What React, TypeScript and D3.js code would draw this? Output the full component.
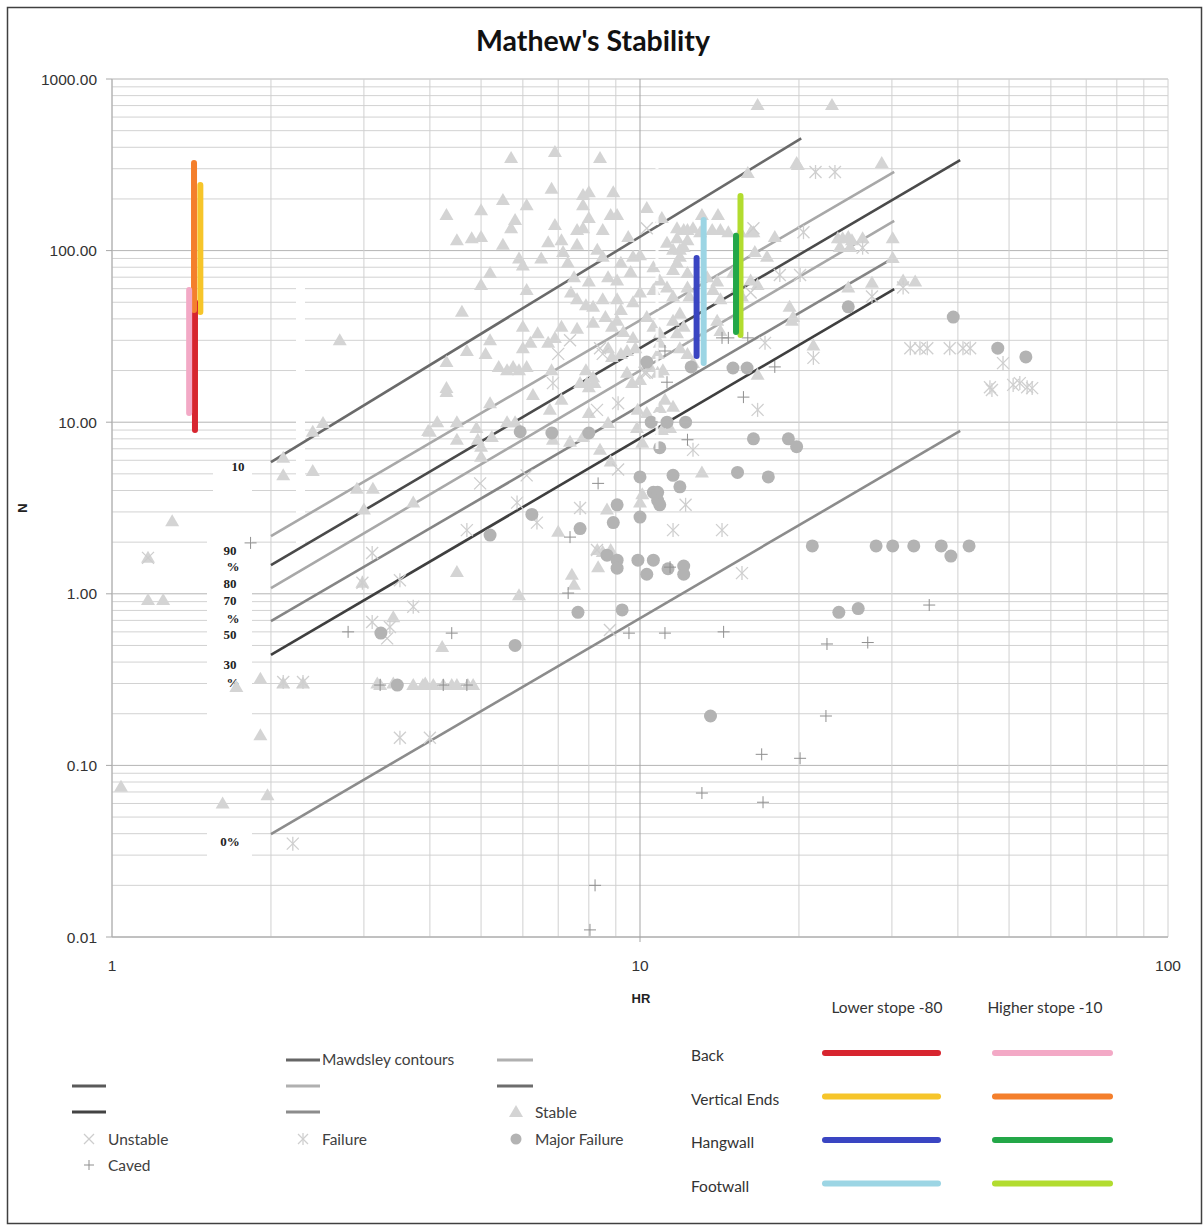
import React from "react";
import * as d3 from "d3";

// ---------- data ----------
const X_TICKS = [1, 10, 100];
const Y_TICKS = [0.01, 0.1, 1, 10, 100, 1000];

// [HR, N]
const STABLE: [number, number][] = [
  [16.7, 705], [23.1, 705], [6.9, 376], [5.7, 347], [8.4, 347], [6.8, 229], [5.5, 197], [6.1, 184],
  [7.8, 211], [8.0, 219], [8.9, 219], [7.8, 184], [4.3, 161], [5.0, 172], [5.8, 151], [5.7, 135],
  [6.9, 141], [8.0, 155], [8.8, 161], [9.05, 161], [10.3, 177], [7.6, 132], [7.8, 135], [8.5, 132],
  [4.5, 115], [4.8, 118], [5.0, 120], [5.5, 108], [6.7, 112], [7.1, 115], [7.6, 108], [9.5, 120],
  [11.0, 155], [11.75, 135], [12.1, 132], [12.6, 135], [5.9, 90], [6.0, 82], [6.5, 90], [7.15, 98],
  [7.3, 85], [8.3, 101], [8.5, 92], [9.2, 85], [9.7, 92], [10, 94], [5.2, 74], [5.0, 63], [6.1, 59],
  [7.5, 70], [8.0, 66], [8.7, 70], [9.05, 67], [9.6, 75], [7.4, 57], [7.6, 52], [7.9, 48], [8.15, 47],
  [8.5, 52], [9.05, 52], [9.2, 45], [9.7, 50], [10, 57], [4.6, 44], [6.0, 36], [6.4, 33], [6.7, 29],
  [6.9, 31], [7.1, 36], [7.6, 35], [8.15, 38], [8.6, 41], [8.85, 36], [9.05, 39], [9.3, 33.5], [9.7, 31],
  [5.2, 30], [5.1, 25], [6.0, 27], [6.2, 29], [4.7, 26], [4.3, 22.4], [5.4, 21], [5.6, 20.1], [5.75, 21],
  [5.9, 20.1], [6.1, 21], [6.8, 20.1], [7.9, 20.1], [8.15, 18.3], [8.7, 27], [8.85, 24], [9.2, 25],
  [9.45, 26], [9.8, 27], [4.3, 15.8], [7.7, 16.9], [8.0, 16.0], [9.45, 19.4], [10, 17.6], [10.45, 21],
  [10.8, 19.4], [11.05, 20.1], [10.6, 59], [10.9, 67], [11.25, 61], [11.55, 54], [10.6, 80], [11.55, 77],
  [11.9, 101], [12.3, 115], [10.3, 41], [10.6, 36], [10.9, 33], [11.55, 39], [11.9, 43],
  [13.1, 161], [14.05, 161], [18, 120], [17.4, 92], [19.8, 324], [12.3, 132], [13.0, 128], [13.7, 132],
  [14.2, 132], [14.7, 128], [15.5, 128], [16.2, 128], [11.75, 118], [11.25, 111], [11.55, 101], [12.1, 105],
  [11.9, 92], [11.75, 85], [12.3, 74], [12.3, 61], [12.4, 54], [13.4, 70], [14.0, 66], [13.75, 59],
  [14.2, 52], [15.0, 74], [15.3, 61], [15.6, 54], [16.2, 67], [16.7, 63], [14.0, 39], [14.2, 34],
  [12.1, 36], [11.75, 33], [19.2, 47], [19.5, 41], [16.7, 18.9], [10.9, 29], [10.8, 25], [11.9, 27],
  [12.3, 25], [12.6, 22.1], [16.0, 283], [19.9, 315], [28.7, 324], [16.4, 128], [16.5, 98], [23.7, 118],
  [24.2, 118], [24.8, 120], [25.2, 115], [26.4, 118], [23.9, 105], [25.0, 105], [30.1, 118], [30.1, 90.6],
  [31.5, 67], [33.2, 66], [24.8, 61], [27.5, 65], [19.4, 39], [21.3, 28],
  [4.3, 15.0], [4.13, 10], [4.5, 10], [4.0, 8.8], [4.5, 7.9], [5.2, 12.9], [6.27, 14.4], [7.1, 13.5],
  [6.75, 11.8], [5.8, 10], [5.6, 10], [4.9, 9.25], [4.93, 7.9], [5.0, 7.2], [5.0, 6.3], [5.24, 8.2],
  [6.84, 7.9], [7.37, 7.7], [7.8, 8.2], [8.4, 6.9], [8.8, 5.9], [8.0, 11.3], [8.7, 9.9], [7.94, 16.9],
  [8.2, 16.9], [9.66, 16.9], [9.9, 11.8], [10.3, 11.3], [10.9, 12.1], [11.15, 13.5], [11.55, 12.3],
  [9.87, 9.25], [10.1, 7.6], [11.0, 9.0], [11.4, 9.25], [3.72, 3.4], [4.5, 1.34], [5.9, 0.98], [7.0, 2.3],
  [8.66, 3.1], [10.1, 3.8], [10, 3.4], [8.3, 1.8], [8.5, 1.75], [8.8, 1.8], [8.33, 1.43], [7.43, 1.29],
  [7.5, 1.13], [3.41, 0.73], [4.22, 0.49], [3.22, 0.294], [3.72, 0.294], [3.88, 0.294], [4.06, 0.294],
  [4.24, 0.294], [4.4, 0.294], [4.5, 0.294], [4.72, 0.294], [4.83, 0.294], [13.1, 5.1],
  [2.7, 30], [2.51, 9.9], [2.4, 8.8], [2.11, 6.2], [2.11, 4.9], [2.4, 5.2], [2.91, 4.1], [3.12, 4.1],
  [3.0, 3.1], [3.97, 8.9], [1.3, 2.65], [1.17, 1.62], [1.17, 0.92], [1.25, 0.92], [2.98, 1.16],
  [1.72, 0.286], [1.91, 0.32], [2.11, 0.3], [2.3, 0.3], [1.91, 0.15], [1.04, 0.075], [1.62, 0.06],
  [1.97, 0.067], [3.18, 0.3], [3.41, 0.3], [3.92, 0.3],
];

const MAJOR_FAILURE: [number, number][] = [
  [10.3, 22.4], [12.5, 21], [15.0, 20.7], [15.95, 20.7], [5.93, 8.8], [6.81, 8.65], [8.0, 8.65],
  [10.5, 10], [11.25, 10], [12.2, 10], [10.9, 7.1], [16.4, 8.0], [19.1, 8.0], [19.8, 7.2], [15.3, 5.1],
  [17.5, 4.8], [10, 4.8], [11.55, 4.9], [11.9, 4.2], [10.6, 3.9], [10.8, 3.9], [10.8, 3.5], [10.9, 3.3],
  [9.05, 3.3], [8.9, 2.6], [10, 2.8], [6.24, 2.9], [7.7, 2.4], [5.2, 2.2], [8.66, 1.68], [9.05, 1.57],
  [9.05, 1.41], [9.91, 1.57], [10.6, 1.57], [10.3, 1.3], [11.3, 1.4], [12.1, 1.45], [12.1, 1.3],
  [7.63, 0.78], [9.25, 0.805], [5.8, 0.5], [3.23, 0.59], [3.47, 0.294], [13.6, 0.194], [23.8, 0.78],
  [25.9, 0.82], [21.2, 1.9], [28.0, 1.9], [30.1, 1.9], [33.0, 1.9], [37.2, 1.9], [38.8, 1.66], [42.0, 1.9],
  [24.8, 47], [39.2, 41], [47.6, 27], [53.8, 24],
];

const UNSTABLE: [number, number][] = [
  [1.17, 1.62], [7.37, 30], [8.5, 25], [10.3, 19.4], [9.09, 5.3], [8.29, 1.8], [4.98, 4.4],
  [8.77, 0.615], [8.29, 11.8], [3.32, 0.55], [10.3, 135], [16.4, 135], [16.2, 57], [8.4, 27],
  [10.2, 19.4], [7.0, 25], [6.1, 4.9],
];

const FAILURE: [number, number][] = [
  [12.6, 6.9], [9.09, 12.9], [16.7, 11.8], [7.7, 3.16], [12.2, 3.3], [6.38, 2.6], [4.7, 2.35],
  [11.55, 2.35], [14.3, 2.35], [15.6, 1.32], [3.72, 0.84], [5.85, 3.4], [6.84, 16.9], [3.51, 0.145],
  [4.0, 0.145], [3.51, 1.2], [3.11, 1.73], [2.98, 1.16], [3.11, 0.685], [3.36, 0.64], [2.11, 0.306],
  [2.3, 0.306], [2.2, 0.035], [21.5, 287], [23.4, 287], [20.4, 128], [18.4, 72], [20.1, 72], [26.4, 104],
  [31.5, 61], [27.5, 54], [17.25, 29], [21.3, 23.7], [32.5, 27], [33.9, 27], [35.0, 27], [38.6, 27],
  [40.9, 27], [42.2, 27], [48.7, 22.1], [46.0, 16.0], [46.4, 15.4], [50.9, 16.5], [52.4, 16.9],
  [54.1, 16.0], [55.3, 15.8],
];

const CAVED: [number, number][] = [
  [2.8, 0.6], [4.4, 0.59], [7.37, 2.14], [8.33, 4.4], [9.53, 0.59], [11.15, 0.59], [14.4, 0.6],
  [7.31, 1.01], [4.24, 0.294], [4.7, 0.294], [3.22, 0.294], [11.15, 26], [11.25, 17.1], [15.7, 14.0],
  [18.0, 21], [11.4, 1.43], [12.3, 7.9], [22.6, 0.51], [27.0, 0.52], [35.3, 0.86], [22.5, 0.194],
  [17.0, 0.116], [20.1, 0.11], [13.1, 0.069], [17.1, 0.061], [8.22, 0.02], [8.04, 0.011], [14.3, 31],
  [14.7, 31], [16.0, 31], [1.83, 1.98],
];

// Mawdsley contours: start at HR_START, N_START -> end at HR_END, N_END
const CONTOUR_HR_START = [2, 2, 2, 2, 2, 2, 2];
const CONTOUR_N_START = [5.86, 2.17, 1.47, 1.08, 0.694, 0.44, 0.0398];
const CONTOUR_HR_END = [20.2, 30.3, 40.4, 30.3, 29.6, 30.3, 40.4];
const CONTOUR_N_END = [451, 288, 337, 149, 87.3, 59.7, 8.89];
const CONTOUR_COLORS = ["#6a6a6a", "#a8a8a8", "#4a4a4a", "#a8a8a8", "#858585", "#3f3f3f", "#8c8c8c"];

// contour labels (text, N at which it sits)
const CONTOUR_LABELS = ["10", "90", "%", "80", "70", "%", "50", "30", "%", "0%"];
const CONTOUR_LABEL_N = [5.55, 1.79, 1.45, 1.15, 0.91, 0.72, 0.58, 0.385, 0.305, 0.036];

// stope ranges
const SURFACES = ["Back", "Vertical Ends", "Hangwall", "Footwall"];
const LOWER_HR = [1.436, 1.47, 12.8, 13.2];
const LOWER_N_MIN = [9.0, 43.8, 24.3, 22.1];
const LOWER_N_MAX = [50, 241, 90.5, 151];
const HIGHER_HR = [1.4, 1.43, 15.2, 15.5];
const HIGHER_N_MIN = [11.3, 45, 33.6, 32.2];
const HIGHER_N_MAX = [59, 324, 122, 208];
const LOWER_COLORS = ["#d7252f", "#f6c52a", "#3a45c2", "#9cd5e4"];
const HIGHER_COLORS = ["#f3a9c6", "#f47f2c", "#23a748", "#b2dc2f"];

// ---------- drawing ----------
const TRI = "#d4d4d4";
const CIRC = "#b3b3b3";

function Tri({ cx, cy }: { cx: number; cy: number }) {
  return <path d={`M${cx},${cy - 7}L${cx + 7},${cy + 5}L${cx - 7},${cy + 5}Z`} fill={TRI} />;
}
function Xm({ cx, cy, s = 6 }: { cx: number; cy: number; s?: number }) {
  return (
    <g stroke="#cdcdcd" strokeWidth={1.3}>
      <line x1={cx - s} y1={cy - s} x2={cx + s} y2={cy + s} />
      <line x1={cx - s} y1={cy + s} x2={cx + s} y2={cy - s} />
    </g>
  );
}
function Ast({ cx, cy, s = 6 }: { cx: number; cy: number; s?: number }) {
  return (
    <g stroke="#cfcfcf" strokeWidth={1.3}>
      <line x1={cx - s} y1={cy - s} x2={cx + s} y2={cy + s} />
      <line x1={cx - s} y1={cy + s} x2={cx + s} y2={cy - s} />
      <line x1={cx} y1={cy - s - 1} x2={cx} y2={cy + s + 1} />
    </g>
  );
}
function Plus({ cx, cy, s = 6 }: { cx: number; cy: number; s?: number }) {
  return (
    <g stroke="#8f8f8f" strokeWidth={1}>
      <line x1={cx - s} y1={cy} x2={cx + s} y2={cy} />
      <line x1={cx} y1={cy - s} x2={cx} y2={cy + s} />
    </g>
  );
}

export default function App() {
  const x = d3.scaleLog().domain([1, 100]).range([112, 1168]);
  const y = d3.scaleLog().domain([0.01, 1000]).range([937, 79]);

  const xGrid: number[] = [];
  [1, 10].forEach((d) => d3.range(1, 10).forEach((k) => xGrid.push(k * d)));
  xGrid.push(100);
  const yGrid: number[] = [];
  [0.01, 0.1, 1, 10, 100].forEach((d) => d3.range(1, 10).forEach((k) => yGrid.push(k * d)));
  yGrid.push(1000);

  const sans = "Lato, 'Open Sans', sans-serif";
  const arial = "'Liberation Sans', Arial, sans-serif";

  return (
    <div style={{ position: "absolute", left: 0, top: 0 }}>
      <svg width={1203} height={1225} style={{ display: "block", background: "#fff" }}>
        <rect x={7.5} y={7.5} width={1194} height={1216} fill="#fff" stroke="#404040" strokeWidth={1.5} />

        {/* title */}
        <text x={593} y={51} textAnchor="middle" fontFamily={sans} fontWeight={700} fontSize={28.5} fill="#111">
          Mathew's Stability
        </text>

        {/* grid */}
        {yGrid.map((v, i) => {
          const major = Y_TICKS.some((t) => Math.abs(t - v) / v < 1e-6);
          return (
            <line key={"yg" + i} x1={112} x2={1168} y1={y(v)} y2={y(v)}
              stroke={major ? "#b4b4b4" : "#d2d2d2"} strokeWidth={1} />
          );
        })}
        {xGrid.map((v, i) => {
          const major = v === 10;
          return (
            <line key={"xg" + i} x1={x(v)} x2={x(v)} y1={79} y2={major ? 942 : 937}
              stroke={major ? "#a5a5a5" : "#d0d0d0"} strokeWidth={1} />
          );
        })}
        <line x1={112} x2={112} y1={79} y2={937} stroke="#a8a8a8" />
        <line x1={112} x2={1168} y1={937} y2={937} stroke="#a8a8a8" />
        {Y_TICKS.map((t) => (
          <line key={"yt" + t} x1={106} x2={112} y1={y(t)} y2={y(t)} stroke="#a8a8a8" />
        ))}

        {/* tick labels */}
        {Y_TICKS.map((t) => (
          <text key={"yl" + t} x={97} y={y(t) + 5.5} textAnchor="end" fontFamily={arial} fontSize={15.5} fill="#333">
            {t.toFixed(2)}
          </text>
        ))}
        {X_TICKS.map((t) => (
          <text key={"xl" + t} x={x(t)} y={971} textAnchor="middle" fontFamily={arial} fontSize={15.5} fill="#333">
            {t}
          </text>
        ))}
        <text x={641} y={1003} textAnchor="middle" fontFamily={arial} fontWeight={700} fontSize={13} fill="#222">HR</text>
        <text x={27} y={508} textAnchor="middle" fontFamily={arial} fontWeight={700} fontSize={13} fill="#222"
          transform="rotate(-90 27 508)">N</text>

        {/* white label boxes */}
        <rect x={213} y={470} width={39} height={30} fill="#fff" />
        <rect x={207} y={533} width={45} height={190} fill="#fff" />
        <rect x={207} y={828} width={45} height={28} fill="#fff" />
        {/* artifact column */}
        <rect x={296} y={286} width={9} height={258} fill="#fff" />

        {/* contours */}
        {CONTOUR_N_START.map((n0, i) => (
          <line key={"c" + i} x1={x(CONTOUR_HR_START[i])} y1={y(n0)} x2={x(CONTOUR_HR_END[i])} y2={y(CONTOUR_N_END[i])}
            stroke={CONTOUR_COLORS[i]} strokeWidth={2.6} />
        ))}
        {CONTOUR_LABELS.map((l, i) => (
          <text key={"cl" + i} x={l === "%" ? 233 : l === "10" ? 238 : 230} y={y(CONTOUR_LABEL_N[i]) + 4.5}
            textAnchor="middle" fontFamily="'Liberation Serif', 'DejaVu Serif', serif" fontSize={13}
            fontWeight={700} fill="#222">
            {l}
          </text>
        ))}

        {/* scatter */}
        {STABLE.map((d, i) => <Tri key={"s" + i} cx={x(d[0])} cy={y(d[1])} />)}
        {UNSTABLE.map((d, i) => <Xm key={"u" + i} cx={x(d[0])} cy={y(d[1])} />)}
        {FAILURE.map((d, i) => <Ast key={"f" + i} cx={x(d[0])} cy={y(d[1])} />)}
        {MAJOR_FAILURE.map((d, i) => <circle key={"m" + i} cx={x(d[0])} cy={y(d[1])} r={6.5} fill={CIRC} />)}
        {CAVED.map((d, i) => <Plus key={"p" + i} cx={x(d[0])} cy={y(d[1])} />)}

        {/* artifact dashed line */}
        <line x1={657} x2={657} y1={160} y2={455} stroke="#ffffff" strokeWidth={3} strokeDasharray="9 5" opacity={0.9} />

        {/* stope ranges */}
        {[1, 0, 3, 2].map((i) => (
          <line key={"lo" + i} x1={x(LOWER_HR[i])} x2={x(LOWER_HR[i])} y1={y(LOWER_N_MIN[i])} y2={y(LOWER_N_MAX[i])}
            stroke={LOWER_COLORS[i]} strokeWidth={6} strokeLinecap="round" />
        ))}
        {[1, 0, 3, 2].map((i) => (
          <line key={"hi" + i} x1={x(HIGHER_HR[i])} x2={x(HIGHER_HR[i])} y1={y(HIGHER_N_MIN[i])} y2={y(HIGHER_N_MAX[i])}
            stroke={HIGHER_COLORS[i]} strokeWidth={6} strokeLinecap="round" />
        ))}

        {/* left legend */}
        <g fontFamily={sans} fontSize={15.5} fill="#404040">
          <line x1={286} x2={320} y1={1060} y2={1060} stroke="#666" strokeWidth={3} />
          <text x={322} y={1065}>Mawdsley contours</text>
          <line x1={497} x2={533} y1={1060} y2={1060} stroke="#b0b0b0" strokeWidth={3} />
          <line x1={72} x2={106} y1={1086} y2={1086} stroke="#5a5a5a" strokeWidth={3} />
          <line x1={286} x2={320} y1={1086} y2={1086} stroke="#b0b0b0" strokeWidth={3} />
          <line x1={497} x2={533} y1={1086} y2={1086} stroke="#6d6d6d" strokeWidth={3} />
          <line x1={72} x2={106} y1={1112} y2={1112} stroke="#434343" strokeWidth={3} />
          <line x1={286} x2={320} y1={1112} y2={1112} stroke="#8c8c8c" strokeWidth={3} />
          <Tri cx={516} cy={1112} />
          <text x={535} y={1118}>Stable</text>
          <Xm cx={89} cy={1139} s={5} />
          <text x={108} y={1145}>Unstable</text>
          <Ast cx={303} cy={1139} s={5} />
          <text x={322} y={1145}>Failure</text>
          <circle cx={516} cy={1139} r={5.5} fill={CIRC} />
          <text x={535} y={1145}>Major Failure</text>
          <Plus cx={89} cy={1165} s={5} />
          <text x={108} y={1171}>Caved</text>
        </g>

        {/* right legend */}
        <g fontFamily={sans} fontSize={15.5} fill="#333">
          <text x={887} y={1013} textAnchor="middle">Lower stope -80</text>
          <text x={1045} y={1013} textAnchor="middle">Higher stope -10</text>
          {SURFACES.map((s, i) => {
            const yy = 1053 + i * 43.5;
            return (
              <g key={"rl" + i}>
                <text x={691} y={yy + 8}>{s}</text>
                <line x1={825} x2={938} y1={yy} y2={yy} stroke={LOWER_COLORS[i]} strokeWidth={6} strokeLinecap="round" />
                <line x1={995} x2={1110} y1={yy} y2={yy} stroke={HIGHER_COLORS[i]} strokeWidth={6} strokeLinecap="round" />
              </g>
            );
          })}
        </g>
      </svg>
    </div>
  );
}
